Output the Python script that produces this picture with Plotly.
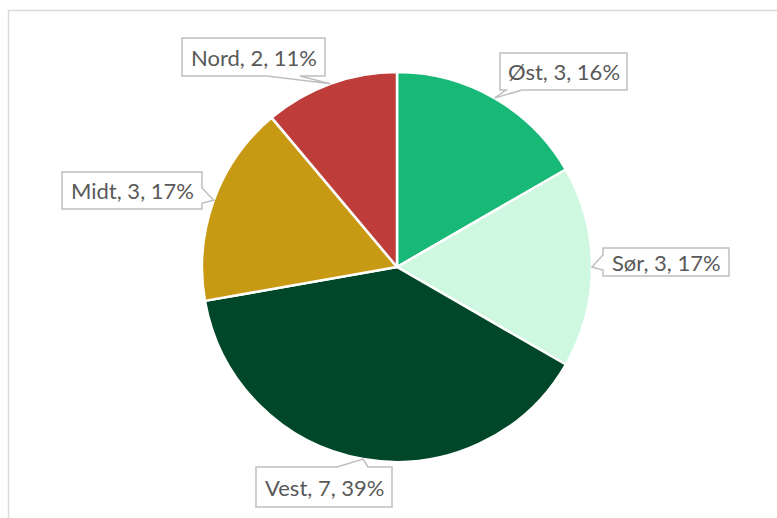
import math
import plotly.graph_objects as go

# ---- data ----
regions = ["Øst", "Sør", "Vest", "Midt", "Nord"]
counts = [3, 3, 7, 3, 2]
pct_labels = ["16%", "17%", "39%", "17%", "11%"]
colors = ["#18B877", "#CEF8E0", "#00472A", "#C89A14", "#BE3C3A"]

# ---- layout constants (pixels) ----
W, H = 777, 518
CX, CY, R = 397, 267, 195

# callout boxes: x0, y0, x1, y1, side of pointer, base start, base end
boxes = {
    "Øst": (500, 53, 627, 90, "bottom", 506, 522),
    "Sør": (603, 248, 729, 276, "left", 255, 270),
    "Vest": (256, 467, 392, 507, "top", 337, 368),
    "Midt": (62, 172, 202, 209, "right", 188, 203),
    "Nord": (182, 38, 325, 76, "bottom", 267, 300),
}


def px(x):
    return x / W


def py(y):
    return 1 - y / H


fig = go.Figure(
    go.Pie(
        labels=regions,
        values=counts,
        sort=False,
        direction="clockwise",
        rotation=0,
        marker=dict(colors=colors, line=dict(color="white", width=2.5)),
        textinfo="none",
        hoverinfo="label+value+percent",
        domain=dict(x=[px(CX - R), px(CX + R)], y=[py(CY + R), py(CY - R)]),
        showlegend=False,
    )
)

shapes = []
annotations = []
total = sum(counts)
cum = 0
for name, val, pct in zip(regions, counts, pct_labels):
    mid = (cum + val / 2) / total * 2 * math.pi
    cum += val
    tx = CX + R * math.sin(mid)
    ty = CY - R * math.cos(mid)
    x0, y0, x1, y1, side, b0, b1 = boxes[name]
    pts = [(x0, y0)]
    if side == "top":
        pts += [(b0, y0), (tx, ty), (b1, y0)]
    pts.append((x1, y0))
    if side == "right":
        pts += [(x1, b0), (tx, ty), (x1, b1)]
    pts.append((x1, y1))
    if side == "bottom":
        pts += [(b1, y1), (tx, ty), (b0, y1)]
    pts.append((x0, y1))
    if side == "left":
        pts += [(x0, b1), (tx, ty), (x0, b0)]
    path = "M " + " L ".join(f"{px(a):.5f},{py(b):.5f}" for a, b in pts) + " Z"
    shapes.append(
        dict(
            type="path",
            xref="paper",
            yref="paper",
            path=path,
            fillcolor="white",
            line=dict(color="#BFBFBF", width=1.5),
            layer="above",
        )
    )
    annotations.append(
        dict(
            x=px((x0 + x1) / 2),
            y=py((y0 + y1) / 2),
            xref="paper",
            yref="paper",
            text=f"{name}, {val}, {pct}",
            showarrow=False,
            xanchor="center",
            yanchor="middle",
            font=dict(family="Lato", size=22, color="#595959"),
        )
    )

# chart frame (cut off at right/bottom)
shapes.append(
    dict(
        type="rect",
        xref="paper",
        yref="paper",
        x0=px(8.5),
        y0=py(540),
        x1=px(800),
        y1=py(10.5),
        line=dict(color="#D9D9D9", width=1.5),
        fillcolor="rgba(0,0,0,0)",
        layer="below",
    )
)

fig.update_layout(
    width=W,
    height=H,
    margin=dict(l=0, r=0, t=0, b=0),
    paper_bgcolor="white",
    plot_bgcolor="white",
    shapes=shapes,
    annotations=annotations,
)

fig.write_html(
    "out.html",
    config={"displayModeBar": False},
    post_script="document.body.style.margin='0';document.body.style.overflow='hidden';",
)
